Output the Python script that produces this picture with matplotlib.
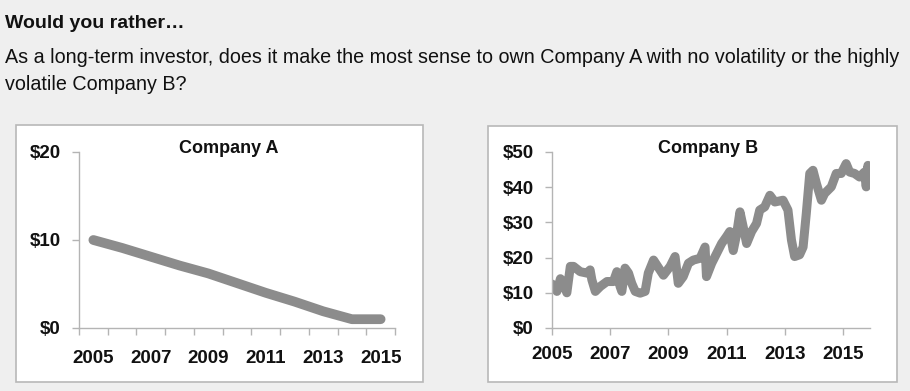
import matplotlib.pyplot as plt
from matplotlib.patches import Rectangle
from matplotlib.ticker import FixedLocator

plt.rcParams['font.family'] = ['Liberation Sans', 'DejaVu Sans']

# Company A: one value per year
years_a = [2005, 2006, 2007, 2008, 2009, 2010, 2011, 2012, 2013, 2014, 2015]
price_a = [10, 9.1, 8.1, 7.1, 6.2, 5.1, 4.0, 3.0, 1.9, 1.0, 1.0]

# Company B: noisy price path
t_b = [2005.0, 2005.06, 2005.17, 2005.29, 2005.40, 2005.51, 2005.63, 2005.74, 2005.97,
       2006.20, 2006.31, 2006.37, 2006.49, 2006.66, 2006.89, 2007.11, 2007.23, 2007.34,
       2007.40, 2007.51, 2007.63, 2007.74, 2007.86, 2008.03, 2008.20, 2008.31, 2008.49,
       2008.60, 2008.83, 2009.06, 2009.23, 2009.34, 2009.51, 2009.69, 2009.86, 2010.09,
       2010.26, 2010.31, 2010.49, 2010.66, 2010.83, 2011.00, 2011.11, 2011.23, 2011.34,
       2011.46, 2011.57, 2011.69, 2011.86, 2012.03, 2012.14, 2012.31, 2012.49, 2012.66,
       2012.94, 2013.11, 2013.23, 2013.34, 2013.51, 2013.63, 2013.74, 2013.86, 2013.97,
       2014.09, 2014.26, 2014.37, 2014.60, 2014.77, 2014.94, 2015.11, 2015.23, 2015.40,
       2015.57, 2015.74, 2015.80, 2015.86, 2015.91]
price_b = [12.5, 11.8, 10.4, 14.0, 12.5, 10.0, 17.5, 17.5, 16.0,
           15.6, 16.5, 13.7, 10.4, 11.8, 13.2, 13.2, 16.0, 11.8,
           10.4, 17.0, 15.6, 12.7, 10.4, 9.9, 10.4, 15.6, 19.3,
           17.9, 15.0, 17.5, 20.3, 12.7, 14.6, 18.4, 19.3, 19.8,
           23.0, 14.6, 18.4, 21.2, 24.0, 26.0, 27.4, 22.0, 26.4,
           33.0, 28.8, 24.0, 27.4, 29.7, 33.5, 34.4, 37.7, 35.8,
           36.3, 33.5, 25.0, 20.3, 20.8, 23.0, 32.5, 43.9, 44.8,
           41.0, 36.3, 38.2, 40.1, 43.9, 43.9, 46.7, 44.3, 43.9,
           42.9, 44.3, 40.1, 46.2, 42.5]

a_ticks = [2005, 2007, 2009, 2011, 2013, 2015]
b_ticks = [2005, 2007, 2009, 2011, 2013, 2015]
a_yticks = [0, 10, 20]
b_yticks = [0, 10, 20, 30, 40, 50]

bg = '#efefef'
line_col = '#8c8c8c'
axis_col = '#b4b4b4'

W, H = 910, 391
fig = plt.figure(figsize=(9.1, 3.91), dpi=100, facecolor=bg)

fig.text(5 / W, 1 - 28 / H, 'Would you rather\u2026', fontsize=14, fontweight='bold',
         color='#111111', va='baseline')
fig.text(5 / W, 1 - 63 / H,
         'As a long-term investor, does it make the most sense to own Company A with no volatility or the highly',
         fontsize=14.2, color='#111111', va='baseline')
fig.text(5 / W, 1 - 90 / H, 'volatile Company B?', fontsize=14.2, color='#111111', va='baseline')

# white panels behind each chart
for x0, y0, x1, y1 in [(16, 125, 423, 382), (488, 126, 897, 382)]:
    fig.patches.append(Rectangle((x0 / W, 1 - y1 / H), (x1 - x0) / W, (y1 - y0) / H,
                                 transform=fig.transFigure, facecolor='white',
                                 edgecolor='#b8b8b8', linewidth=1.2, zorder=-5))

# chart titles, placed as in the picture
fig.text(229 / W, 1 - 153 / H, 'Company A', fontsize=13, fontweight='bold',
         color='#111111', ha='center', va='baseline')
fig.text(708 / W, 1 - 153 / H, 'Company B', fontsize=13, fontweight='bold',
         color='#111111', ha='center', va='baseline')


def style(ax):
    ax.set_facecolor('none')
    ax.set_zorder(2)
    for s in ['top', 'right']:
        ax.spines[s].set_visible(False)
    for s in ['left', 'bottom']:
        ax.spines[s].set_color(axis_col)
        ax.spines[s].set_linewidth(1.0)
    ax.tick_params(which='both', color=axis_col, width=1.0, length=5, direction='out',
                   labelsize=13.5, labelcolor='#111111', pad=8)
    for lbl in ax.get_xticklabels() + ax.get_yticklabels():
        lbl.set_fontweight('bold')


# Company A
ax1 = fig.add_axes([79 / W, 1 - 328 / H, 316 / W, 176 / H])
ax1.plot(years_a, price_a, color=line_col, linewidth=7, solid_capstyle='round',
         solid_joinstyle='round')
ax1.set_xlim(2004.5, 2015.5)
ax1.set_ylim(0, 20)
ax1.set_xticks(a_ticks)
ax1.set_xticklabels([str(y) for y in a_ticks])
ax1.xaxis.set_minor_locator(FixedLocator([y - 0.5 for y in range(2005, 2017)]))
ax1.set_yticks(a_yticks)
ax1.set_yticklabels(['$%d' % v for v in a_yticks])
style(ax1)
ax1.tick_params(axis='x', which='major', length=0, pad=16)

# Company B
ax2 = fig.add_axes([552 / W, 1 - 328 / H, 318 / W, 176 / H])
ax2.plot(t_b, price_b, color=line_col, linewidth=6.5, solid_capstyle='round',
         solid_joinstyle='round')
ax2.set_xlim(2005, 2015.93)
ax2.set_ylim(0, 50)
ax2.set_xticks(b_ticks)
ax2.set_xticklabels([str(y) for y in b_ticks])
ax2.set_yticks(b_yticks)
ax2.set_yticklabels(['$%d' % v for v in b_yticks])
style(ax2)

fig.savefig('out.png', dpi=100, facecolor=bg)
